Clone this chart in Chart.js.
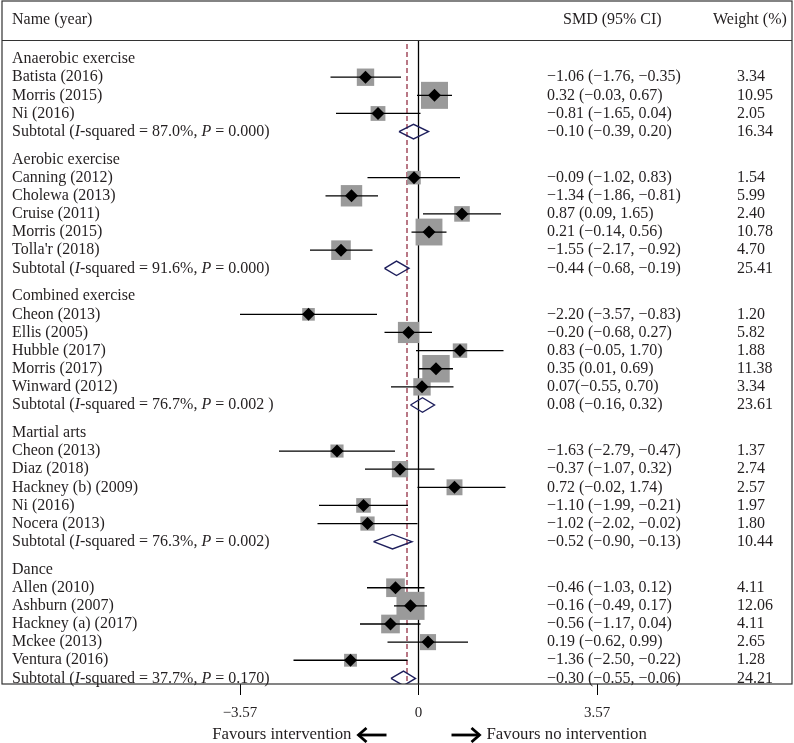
<!DOCTYPE html>
<html>
<head>
<meta charset="utf-8">
<script src="https://cdn.jsdelivr.net/npm/chart.js@4.4.0/dist/chart.umd.min.js"></script>
<style>
  html, body { margin: 0; padding: 0; background: #fff; }
</style>
</head>
<body>
<canvas id="forestChart" width="794" height="743"></canvas>
<script>
// ---- data ----
const groupNames = ['Anaerobic exercise', 'Aerobic exercise', 'Combined exercise', 'Martial arts', 'Dance'];
const groupSizes = [3, 5, 5, 5, 5];

const studyNames = [
    'Batista (2016)', 'Morris (2015)', 'Ni (2016)',
    'Canning (2012)', 'Cholewa (2013)', 'Cruise (2011)', 'Morris (2015)', "Tolla'r (2018)",
    'Cheon (2013)', 'Ellis (2005)', 'Hubble (2017)', 'Morris (2017)', 'Winward (2012)',
    'Cheon (2013)', 'Diaz (2018)', 'Hackney (b) (2009)', 'Ni (2016)', 'Nocera (2013)',
    'Allen (2010)', 'Ashburn (2007)', 'Hackney (a) (2017)', 'Mckee (2013)', 'Ventura (2016)'
];
const studySMD = [-1.06, 0.32, -0.81, -0.09, -1.34, 0.87, 0.21, -1.55, -2.20, -0.20, 0.83, 0.35, 0.07,
    -1.63, -0.37, 0.72, -1.10, -1.02, -0.46, -0.16, -0.56, 0.19, -1.36];
const studyLow = [-1.76, -0.03, -1.65, -1.02, -1.86, 0.09, -0.14, -2.17, -3.57, -0.68, -0.05, 0.01, -0.55,
    -2.79, -1.07, -0.02, -1.99, -2.02, -1.03, -0.49, -1.17, -0.62, -2.50];
const studyHigh = [-0.35, 0.67, 0.04, 0.83, -0.81, 1.65, 0.56, -0.92, -0.83, 0.27, 1.70, 0.69, 0.70,
    -0.47, 0.32, 1.74, -0.21, -0.02, 0.12, 0.17, 0.04, 0.99, -0.22];
const studyWeight = [3.34, 10.95, 2.05, 1.54, 5.99, 2.40, 10.78, 4.70, 1.20, 5.82, 1.88, 11.38, 3.34,
    1.37, 2.74, 2.57, 1.97, 1.80, 4.11, 12.06, 4.11, 2.65, 1.28];

const subI2 = ['87.0', '91.6', '76.7', '76.3', '37.7'];
const subP = ['0.000', '0.000', '0.002 ', '0.002', '0.170'];
const subSMD = [-0.10, -0.44, 0.08, -0.52, -0.30];
const subLow = [-0.39, -0.68, -0.16, -0.90, -0.55];
const subHigh = [0.20, -0.19, 0.32, -0.13, -0.06];
const subWeight = [16.34, 25.41, 23.61, 10.44, 24.21];

const overallSMD = -0.23;
const xTicks = [-3.57, 0, 3.57];
const tightCI = [12]; // Winward is printed without a space before the bracket

// ---- layout helpers ----
const GROUP_GAP = 1.54;      // extra rows between a subtotal and the next group label
const Y_TOP = -3.204, Y_BOTTOM = 34.47;
const HEADER_ROW = -1.05;
const DIAMOND_H = 0.40;

const FONT = '"Liberation Serif", "DejaVu Serif", serif';
const FONT_SIZE = 16;
const TEXT_COLOR = '#231f20';

const minus = v => (v < 0 ? '\u2212' : '') + Math.abs(v).toFixed(2);

// row positions
const rows = [];
const studyRow = [], subRow = [];
let r = 0, s = 0;
groupNames.forEach((g, gi) => {
    rows.push({ kind: 'group', text: g, y: r });
    for (let k = 0; k < groupSizes[gi]; k++) {
        r++;
        studyRow[s] = r;
        rows.push({ kind: 'study', i: s, y: r });
        s++;
    }
    r++;
    subRow[gi] = r;
    rows.push({ kind: 'sub', i: gi, y: r });
    r += GROUP_GAP;
});

const NIL = { x: null, y: null };

const squares = studySMD.map((v, i) => ({ x: v, y: studyRow[i] }));
const squareRadius = studyWeight.map(w => (5.5 + 6.5 * Math.sqrt(w)) / 2 / Math.SQRT1_2);

const ciLines = [];
studySMD.forEach((v, i) => {
    ciLines.push({ x: studyLow[i], y: studyRow[i] }, { x: studyHigh[i], y: studyRow[i] }, NIL);
});

const subDiamonds = [];
subSMD.forEach((v, i) => {
    const y = subRow[i];
    subDiamonds.push(
        { x: subLow[i], y: y },
        { x: v, y: y - DIAMOND_H },
        { x: subHigh[i], y: y },
        { x: v, y: y + DIAMOND_H },
        { x: subLow[i], y: y },
        NIL
    );
});

// ---- text, frame and footer ----
const tablePlugin = {
    id: 'tablePlugin',
    afterDraw(chart) {
        const ctx = chart.ctx;
        const a = chart.chartArea;
        const yS = chart.scales.y;
        const xS = chart.scales.x;
        ctx.save();

        // frame + header rule
        ctx.strokeStyle = '#333';
        ctx.lineWidth = 1.2;
        ctx.strokeRect(a.left, a.top, a.right - a.left, a.bottom - a.top);
        const hy = Math.round(yS.getPixelForValue(HEADER_ROW)) + 0.5;
        ctx.beginPath();
        ctx.moveTo(a.left, hy);
        ctx.lineTo(a.right, hy);
        ctx.stroke();

        ctx.fillStyle = TEXT_COLOR;
        ctx.textBaseline = 'middle';
        const normal = FONT_SIZE + 'px ' + FONT;
        const italic = 'italic ' + FONT_SIZE + 'px ' + FONT;
        ctx.font = normal;

        const nameX = a.left + 10;
        const smdX = a.left + 545;
        const wX = a.left + 735;

        const headY = a.top + 19;
        ctx.fillText('Name (year)', nameX, headY);
        ctx.fillText('SMD (95% CI)', a.left + 561, headY);
        ctx.fillText('Weight (%)', a.left + 711, headY);

        const parts = (pieces, x, y) => {
            pieces.forEach(p => {
                ctx.font = p[1] ? italic : normal;
                ctx.fillText(p[0], x, y);
                x += ctx.measureText(p[0]).width;
            });
            ctx.font = normal;
        };

        rows.forEach(row => {
            const y = yS.getPixelForValue(row.y);
            if (row.kind === 'group') {
                ctx.fillText(row.text, nameX, y);
            } else if (row.kind === 'study') {
                const i = row.i;
                ctx.fillText(studyNames[i], nameX, y);
                const gap = tightCI.includes(i) ? '' : ' ';
                ctx.fillText(minus(studySMD[i]) + gap + '(' + minus(studyLow[i]) + ', ' + minus(studyHigh[i]) + ')', smdX, y);
                ctx.fillText(studyWeight[i].toFixed(2), wX, y);
            } else {
                const i = row.i;
                parts([
                    ['Subtotal (', false], ['I', true],
                    ['-squared = ' + subI2[i] + '%, ', false], ['P', true],
                    [' = ' + subP[i] + ')', false]
                ], nameX, y);
                ctx.fillText(minus(subSMD[i]) + ' (' + minus(subLow[i]) + ', ' + minus(subHigh[i]) + ')', smdX, y);
                ctx.fillText(subWeight[i].toFixed(2), wX, y);
            }
        });

        // footer
        const zx = xS.getPixelForValue(0);
        const fy = 735;
        ctx.font = '16.8px ' + FONT;
        ctx.textAlign = 'right';
        ctx.fillText('Favours intervention', zx - 67, fy);
        ctx.textAlign = 'left';
        ctx.fillText('Favours no intervention', zx + 68, fy);

        ctx.strokeStyle = '#000';
        ctx.lineWidth = 2.8;
        ctx.lineCap = 'butt';
        const arrow = (x1, x2, dir) => {
            ctx.beginPath();
            ctx.moveTo(x1, fy);
            ctx.lineTo(x2, fy);
            ctx.stroke();
            const tip = dir < 0 ? x1 : x2;
            ctx.beginPath();
            ctx.moveTo(tip - dir * 8, fy - 7);
            ctx.lineTo(tip, fy);
            ctx.lineTo(tip - dir * 8, fy + 7);
            ctx.stroke();
        };
        arrow(zx - 60, zx - 32, -1);
        arrow(zx + 33, zx + 61, 1);

        ctx.restore();
    }
};

const ctx = document.getElementById('forestChart').getContext('2d');
new Chart(ctx, {
    type: 'scatter',
    data: {
        datasets: [
            {
                // study point estimates
                data: squares,
                pointStyle: 'rectRot',
                pointRadius: 6.5,
                backgroundColor: '#000',
                borderWidth: 0,
                order: 0
            },
            {
                // subtotal diamonds
                data: subDiamonds,
                showLine: true,
                spanGaps: false,
                pointRadius: 0,
                borderColor: '#1e1f5c',
                borderWidth: 1.4,
                fill: false,
                tension: 0,
                order: 1
            },
            {
                // confidence intervals
                data: ciLines,
                showLine: true,
                spanGaps: false,
                pointRadius: 0,
                borderColor: '#000',
                borderWidth: 1.3,
                order: 2
            },
            {
                // weight boxes
                data: squares,
                pointStyle: 'rect',
                pointRadius: squareRadius,
                backgroundColor: '#9a9a9a',
                borderWidth: 0,
                order: 3
            },
            {
                // line of no effect
                data: [{ x: 0, y: HEADER_ROW }, { x: 0, y: Y_BOTTOM }],
                showLine: true,
                pointRadius: 0,
                borderColor: '#000',
                borderWidth: 1.3,
                order: 4
            },
            {
                // overall effect
                data: [{ x: overallSMD, y: HEADER_ROW + 0.22 }, { x: overallSMD, y: Y_BOTTOM }],
                showLine: true,
                pointRadius: 0,
                borderColor: '#8b1f35',
                borderWidth: 1.2,
                borderDash: [5, 3],
                order: 5
            }
        ]
    },
    options: {
        responsive: false,
        animation: false,
        devicePixelRatio: 1,
        layout: { autoPadding: false, padding: { left: 2, right: 2, top: 1, bottom: 12 } },
        plugins: {
            legend: { display: false },
            tooltip: { enabled: false }
        },
        scales: {
            x: {
                type: 'linear',
                min: -8.33,
                max: 7.47,
                afterBuildTicks: axis => { axis.ticks = xTicks.map(v => ({ value: v })); },
                grid: { drawOnChartArea: false, tickLength: 11, color: '#000', lineWidth: 1 },
                border: { display: false },
                ticks: {
                    padding: 9,
                    maxRotation: 0,
                    autoSkip: false,
                    color: TEXT_COLOR,
                    font: { family: FONT, size: 15 },
                    callback: v => (v === 0 ? '0' : minus(v))
                }
            },
            y: {
                type: 'linear',
                reverse: true,
                min: Y_TOP,
                max: Y_BOTTOM,
                display: false
            }
        }
    },
    plugins: [tablePlugin]
});
</script>
</body>
</html>
